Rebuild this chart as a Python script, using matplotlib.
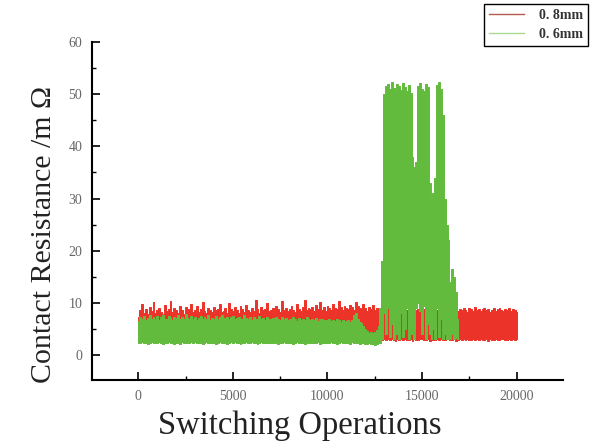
import numpy as np
import matplotlib
matplotlib.use("Agg")
import matplotlib.pyplot as plt
from matplotlib.ticker import MultipleLocator
from matplotlib.lines import Line2D

plt.rcParams['font.family'] = ['Liberation Serif', 'DejaVu Serif']

series_labels = ["0. 8mm", "0. 6mm"]
step = 100  # switching operations per sample window

# 0.8 mm contact: min / max resistance in each 100-operation window, 0..20000
red_high = [
    7.2, 8.6, 9.8, 8.1, 8.9, 7.8, 9.3, 8.4, 10.2, 8.0, 8.7,
    9.1, 8.3, 7.9, 9.6, 8.5, 8.8, 10.4, 8.2, 9.0, 8.6,
    8.1, 9.4, 8.7, 7.9, 9.2, 8.4, 8.9, 9.8, 8.3, 8.6,
    9.5, 8.2, 8.8, 10.1, 8.4, 8.0, 9.1, 8.7, 8.3, 9.3,
    8.6, 8.9, 9.7, 8.2, 8.5, 9.0, 8.1, 10.0, 8.8, 8.4,
    9.2, 8.6, 8.0, 9.4, 8.9, 8.3, 9.6, 8.7, 8.2, 9.1,
    8.5, 10.6, 8.8, 8.1, 9.3, 8.6, 8.9, 9.9, 8.4, 8.7,
    9.0, 8.3, 9.5, 8.8, 8.2, 10.3, 8.6, 9.1, 8.5, 8.9,
    9.4, 8.7, 8.3, 9.7, 8.9, 8.5, 9.2, 10.5, 8.6, 9.0,
    8.8, 9.3, 8.4, 9.6, 8.9, 10.1, 8.7, 9.2, 8.5, 9.4,
    9.0, 8.6, 9.8, 9.1, 8.8, 10.4, 9.3, 8.7, 9.5, 9.0,
    8.9, 9.6, 9.2, 8.6, 10.2, 9.4, 9.0, 8.8, 9.7, 9.1,
    8.5, 9.3, 8.9, 9.6, 8.7, 9.1, 8.4, 9.0, 8.6, 9.2,
    8.8, 9.4, 8.5, 9.0, 8.7, 9.3, 8.6, 8.9, 9.1, 8.4,
    9.0, 8.7, 9.2, 8.5, 8.9, 9.3, 8.6, 8.8, 9.1, 8.7,
    8.9, 9.2, 8.4, 8.8, 9.0, 8.6, 9.3, 8.7, 8.9, 8.5,
    9.1, 8.6, 8.8, 9.2, 8.5, 8.9, 8.7, 9.0, 8.4, 8.8,
    8.6, 9.1, 8.7, 8.3, 9.0, 8.8, 8.5, 9.2, 8.6, 8.9,
    8.4, 8.8, 9.1, 8.6, 8.9, 8.3, 8.7, 9.0, 8.5, 8.8,
    9.0, 8.6, 8.4, 8.9, 8.7, 9.1, 8.5, 8.8, 8.6, 8.3,
]
red_low = [
    5.8, 3.1, 3.3, 3.0, 3.2, 3.4, 3.1, 3.3, 3.0, 3.2, 3.1,
    3.3, 3.0, 3.2, 3.4, 3.1, 3.3, 3.0, 3.2, 3.1, 3.4,
    3.2, 3.0, 3.3, 3.1, 3.4, 3.2, 3.0, 3.3, 3.1, 3.2,
    3.4, 3.1, 3.0, 3.3, 3.2, 3.1, 3.4, 3.0, 3.2, 3.3,
    3.1, 3.3, 3.2, 3.0, 3.4, 3.1, 3.2, 3.3, 3.0, 3.1,
    3.2, 3.4, 3.1, 3.3, 3.0, 3.2, 3.1, 3.4, 3.3, 3.0,
    3.3, 3.1, 3.2, 3.0, 3.3, 3.4, 3.1, 3.2, 3.0, 3.3,
    3.1, 3.2, 3.4, 3.1, 3.0, 3.2, 3.3, 3.1, 3.4, 3.2,
    3.0, 3.3, 3.1, 3.2, 3.4, 3.0, 3.1, 3.3, 3.2, 3.1,
    3.4, 3.2, 3.0, 3.1, 3.3, 3.2, 3.4, 3.0, 3.1, 3.3,
    3.2, 3.1, 3.3, 3.4, 3.0, 3.2, 3.1, 3.3, 3.0, 3.2,
    3.1, 3.3, 3.0, 3.2, 3.4, 3.1, 3.3, 3.2, 3.0, 3.1,
    3.0, 2.9, 3.1, 2.8, 3.0, 3.2, 2.9, 3.0, 2.8, 3.1,
    2.9, 3.0, 2.8, 3.1, 2.9, 2.7, 3.0, 2.9, 3.1, 2.8,
    3.0, 2.8, 2.9, 3.1, 2.7, 3.0, 2.9, 2.8, 3.1, 3.0,
    2.8, 2.9, 3.0, 2.7, 3.1, 2.9, 2.8, 3.0, 2.9, 3.1,
    2.9, 2.8, 3.0, 3.1, 2.8, 2.9, 3.0, 2.7, 2.9, 3.0,
    2.8, 3.0, 2.9, 3.1, 2.8, 2.9, 3.0, 2.8, 3.1, 2.9,
    3.0, 2.8, 2.9, 3.0, 2.7, 3.1, 2.9, 2.8, 3.0, 2.9,
    2.8, 3.0, 3.1, 2.9, 2.8, 3.0, 2.9, 3.1, 2.8, 3.0,
]

# 0.6 mm contact: min / max resistance in each 100-operation window, 0..16900
green_high = [
    6.6, 7.2, 6.9, 7.4, 6.8, 7.1, 7.6, 6.9, 7.3, 7.0,
    7.5, 6.8, 7.2, 7.7, 7.0, 6.9, 7.4, 7.1, 6.8, 7.3,
    7.1, 7.6, 6.9, 7.2, 7.0, 7.8, 7.1, 6.9, 7.4, 7.0,
    7.3, 6.8, 7.1, 7.5, 6.9, 7.2, 7.0, 7.6, 6.8, 7.1,
    7.0, 7.4, 6.9, 7.2, 7.7, 6.8, 7.1, 7.3, 6.9, 7.2,
    7.5, 6.9, 7.1, 7.3, 6.8, 7.0, 7.6, 7.1, 6.9, 7.2,
    6.8, 7.2, 7.0, 6.7, 7.4, 6.9, 7.1, 6.8, 7.3, 7.0,
    6.9, 7.1, 6.7, 7.2, 7.0, 6.8, 7.3, 6.9, 7.1, 6.7,
    7.0, 6.8, 7.2, 6.9, 6.6, 7.1, 6.8, 7.0, 6.7, 7.2,
    6.9, 6.7, 7.0, 6.8, 7.1, 6.6, 6.9, 7.0, 6.7, 6.8,
    6.7, 6.9, 6.5, 6.8, 6.6, 7.0, 6.7, 6.4, 6.8, 6.6,
    6.5, 6.8, 6.3, 6.7, 7.6, 8.0, 6.9, 6.4, 6.1, 5.6,
    5.0, 4.6, 4.3, 4.5, 4.2, 4.4, 4.8, 5.5, 9.0,
    18.0, 50.0, 51.5, 52.0, 51.0, 52.3, 51.2, 50.5, 52.0, 51.6,
    50.8, 52.2, 51.3, 50.6, 51.8, 50.2, 38.0, 36.0, 37.0, 51.5,
    52.2, 51.0, 50.7, 52.0, 51.4, 33.0, 30.0, 31.0, 34.0, 51.8,
    52.3, 51.0, 46.0, 30.0, 25.0, 22.0, 14.0, 16.5, 15.0, 12.0,
    7.0,
]
green_low = [
    2.4, 2.3, 2.5, 2.3, 2.4, 2.2, 2.3, 2.5, 2.4, 2.3,
    2.3, 2.5, 2.4, 2.2, 2.3, 2.4, 2.5, 2.3, 2.4, 2.2,
    2.4, 2.3, 2.2, 2.5, 2.4, 2.3, 2.3, 2.4, 2.5, 2.3,
    2.5, 2.4, 2.3, 2.3, 2.2, 2.4, 2.5, 2.3, 2.4, 2.3,
    2.3, 2.2, 2.4, 2.5, 2.3, 2.4, 2.3, 2.2, 2.4, 2.5,
    2.4, 2.5, 2.3, 2.4, 2.2, 2.3, 2.4, 2.5, 2.3, 2.4,
    2.5, 2.3, 2.4, 2.2, 2.3, 2.5, 2.4, 2.3, 2.4, 2.3,
    2.3, 2.4, 2.5, 2.3, 2.2, 2.4, 2.3, 2.5, 2.4, 2.3,
    2.4, 2.3, 2.2, 2.4, 2.5, 2.3, 2.4, 2.3, 2.2, 2.4,
    2.5, 2.4, 2.3, 2.3, 2.4, 2.5, 2.2, 2.3, 2.4, 2.3,
    2.4, 2.3, 2.5, 2.4, 2.3, 2.2, 2.4, 2.5, 2.3, 2.4,
    2.3, 2.4, 2.2, 2.5, 2.3, 2.4, 2.3, 2.2, 2.4, 2.3,
    2.2, 2.1, 2.3, 2.1, 2.2, 2.0, 2.1, 2.3, 2.4,
    3.0, 8.0, 4.0, 9.0, 3.5, 6.0, 3.0, 7.5, 4.0, 3.0,
    8.0, 3.5, 5.0, 9.0, 3.0, 4.0, 7.0, 3.0, 9.0, 10.0,
    8.5, 4.0, 9.5, 3.0, 6.0, 4.0, 3.0, 5.0, 3.0, 9.0,
    3.5, 7.0, 3.0, 4.0, 3.0, 3.5, 3.0, 4.0, 3.0, 3.2,
    3.0,
]

red_x = np.arange(len(red_high)) * step
green_x = np.arange(len(green_high)) * step

x_ticks = [0, 5000, 10000, 15000, 20000]
y_ticks = [0, 10, 20, 30, 40, 50, 60]

red_color = '#ec3329'
green_color = '#63bb3e'

fig = plt.figure(figsize=(5.9, 4.43), dpi=100)
ax = fig.add_axes([0.156, 0.142, 0.798, 0.763])

ax.fill_between(red_x, red_low, red_high, step='mid', facecolor=red_color,
                edgecolor=red_color, lw=0.7)
ax.fill_between(green_x, green_low, green_high, step='mid', facecolor=green_color,
                edgecolor=green_color, lw=0.7)

ax.set_xlim(-2450, 22450)
ax.set_ylim(-4.8, 60)
ax.set_xticks(x_ticks)
ax.set_yticks(y_ticks)
ax.xaxis.set_minor_locator(MultipleLocator(2500))
ax.yaxis.set_minor_locator(MultipleLocator(5))
ax.tick_params(which='major', direction='in', length=6, width=1.2, labelsize=10,
               labelcolor='#666666', pad=7)
ax.tick_params(which='minor', direction='in', length=3, width=1.0)
for s in ['top', 'right']:
    ax.spines[s].set_visible(False)
for s in ['left', 'bottom']:
    ax.spines[s].set_linewidth(1.5)

ax.set_xlabel("Switching Operations", fontsize=23.5, color='#222222')
ax.xaxis.set_label_coords(0.4405, -0.09)
ax.set_ylabel("Contact Resistance /m Ω", fontsize=21.5, color='#222222')
ax.yaxis.set_label_coords(-0.075, 0.43)

handles = [Line2D([], [], color='#b65a52', lw=1.0),
           Line2D([], [], color='#a9da93', lw=1.0)]
leg = fig.legend(handles=handles, labels=series_labels, loc='upper right',
                 bbox_to_anchor=(0.9966, 0.991), borderaxespad=0,
                 fancybox=False, edgecolor='black', framealpha=1, fontsize=10,
                 handlelength=2.5, borderpad=0.35, labelspacing=0.45, handletextpad=1.1)
leg.get_frame().set_linewidth(1.0)
for t in leg.get_texts():
    t.set_fontweight('bold')
    t.set_color('#333333')

fig.savefig("out.png", dpi=100)
